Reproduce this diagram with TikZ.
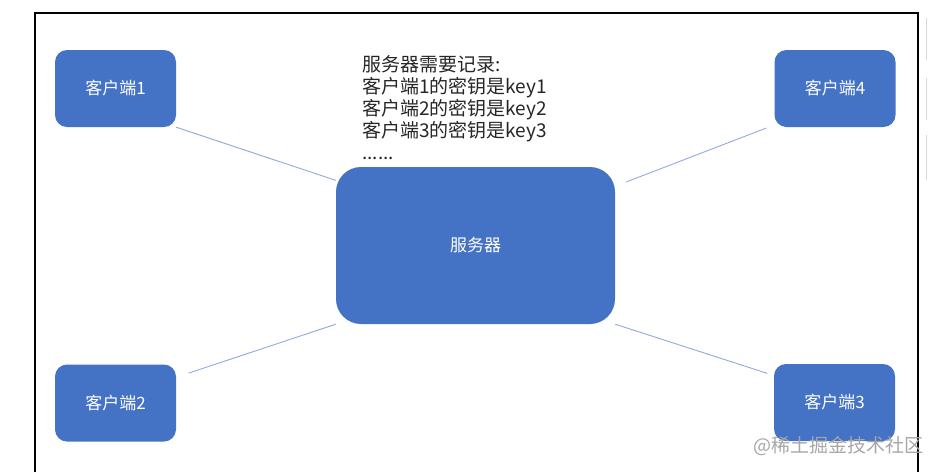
\documentclass[tikz,border=0pt]{standalone}
\usepackage{fontspec}
\setmainfont{Noto Sans CJK SC}
\definecolor{boxblue}{HTML}{4472C4}
\definecolor{linkblue}{HTML}{8FAADC}

\begin{document}
\begin{tikzpicture}[x=1pt,y=-1pt,
        client/.style={fill=boxblue, rounded corners=12pt, minimum width=121pt, minimum height=77pt,
            inner sep=0pt, text=white, font=\fontsize{17}{20}\selectfont},
        server/.style={client, rounded corners=25pt, minimum width=279pt, minimum height=157pt},
        link/.style={draw=linkblue, line width=0.9pt}]
    \useasboundingbox (0,0) rectangle (928,472);
    % frame of the screenshot
    \draw[line width=1.3pt] (35,472) -- (35,13) -- (918,13) -- (918,472);
    \draw[gray!30, line width=0.8pt] (926,18) -- (926,60) (926,78) -- (926,120) (926,135) -- (926,180);

    \node[server] (srv) at (475.5,245.5) {服务器};
    \node[client] (c1) at (115.5,88.5) {客户端1};
    \node[client] (c2) at (115.5,403) {客户端2};
    \node[client] (c3) at (834.5,402.5) {客户端3};
    \node[client] (c4) at (835,88.5) {客户端4};

    \draw[link] (c1.south east) -- (srv.155);
    \draw[link, shorten <=8.5pt, shorten >=11.7pt] (c4.211) -- (srv.23);
    \draw[link, shorten <=13pt] (c2.23) -- (srv.south west);
    \draw[link, shorten >=7pt] (srv.south east) -- (c3.156);

    \node[anchor=north west, align=left, inner sep=0pt, text=black!85,
        font=\fontsize{19}{22}\selectfont] (memo) at (362,55)
        {服务器需要记录:\\客户端1的密钥是key1\\客户端2的密钥是key2\\客户端3的密钥是key3\\......};

    \node[anchor=west, inner sep=0pt, text=gray!70, font=\fontsize{19}{20}\selectfont] (mark) at (753,446) {@稀土掘金技术社区};
\end{tikzpicture}
\end{document}
